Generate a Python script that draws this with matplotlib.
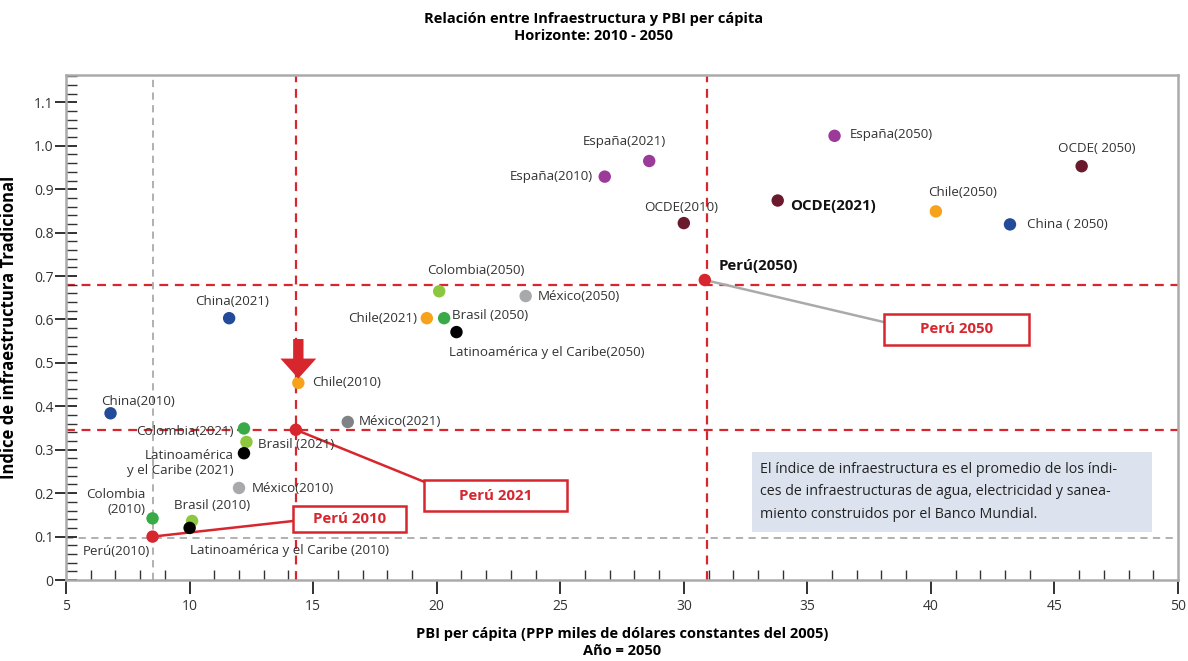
import matplotlib.pyplot as plt
from matplotlib.patches import Rectangle

plt.rcParams['font.family'] = ['Open Sans', 'DejaVu Sans']

# data
names = ['España(2050)', 'OCDE(2050)', 'España(2021)', 'España(2010)', 'OCDE(2021)',
         'Chile(2050)', 'China(2050)', 'OCDE(2010)', 'Perú(2050)', 'Colombia(2050)',
         'México(2050)', 'China(2021)', 'Chile(2021)', 'Brasil(2050)', 'LAC(2050)',
         'Chile(2010)', 'China(2010)', 'México(2021)', 'Colombia(2021)', 'Perú(2021)',
         'Brasil(2021)', 'LAC(2021)', 'México(2010)', 'Colombia(2010)', 'Brasil(2010)',
         'LAC(2010)', 'Perú(2010)']
pbi = [36.1, 46.1, 28.6, 26.8, 33.8, 40.2, 43.2, 30.0, 30.85, 20.1,
       23.6, 11.6, 19.6, 20.3, 20.8, 14.4, 6.8, 16.4, 12.2, 14.3,
       12.3, 12.2, 12.0, 8.5, 10.1, 10.0, 8.5]
indice = [1.023, 0.953, 0.965, 0.929, 0.874, 0.849, 0.819, 0.822, 0.691, 0.665,
          0.654, 0.603, 0.603, 0.603, 0.571, 0.454, 0.384, 0.364, 0.349, 0.346,
          0.318, 0.292, 0.212, 0.142, 0.136, 0.12, 0.1]
colores = ['#9b3a98', '#6b1a2e', '#9b3a98', '#9b3a98', '#6b1a2e',
           '#f7a21b', '#244a9a', '#6b1a2e', '#d7262e', '#8dc63f',
           '#a7a9ac', '#244a9a', '#f7a21b', '#3aaa48', '#000000',
           '#f7a21b', '#244a9a', '#808285', '#3aaa48', '#d7262e',
           '#8dc63f', '#000000', '#a7a9ac', '#3aaa48', '#8dc63f',
           '#000000', '#d7262e']

# point labels: text, x, y, ha, bold
etiquetas = [
    ('España(2050)', 36.7, 1.025, 'left', False),
    ('OCDE( 2050)', 46.7, 0.993, 'center', False),
    ('España(2021)', 27.6, 1.009, 'center', False),
    ('España(2010)', 26.3, 0.929, 'right', False),
    ('OCDE(2010)', 29.9, 0.859, 'center', False),
    ('OCDE(2021)', 34.3, 0.862, 'left', True),
    ('Chile(2050)', 41.3, 0.892, 'center', False),
    ('China ( 2050)', 43.9, 0.819, 'left', False),
    ('Perú(2050)', 31.4, 0.724, 'left', True),
    ('Colombia(2050)', 21.6, 0.712, 'center', False),
    ('México(2050)', 24.1, 0.654, 'left', False),
    ('China(2021)', 11.7, 0.641, 'center', False),
    ('Chile(2021)', 19.2, 0.603, 'right', False),
    ('Brasil (2050)', 20.6, 0.61, 'left', False),
    ('Latinoamérica y el Caribe(2050)', 20.5, 0.523, 'left', False),
    ('Chile(2010)', 14.95, 0.454, 'left', False),
    ('China(2010)', 7.9, 0.412, 'center', False),
    ('México(2021)', 16.85, 0.364, 'left', False),
    ('Colombia(2021)', 11.8, 0.343, 'right', False),
    ('Brasil (2021)', 12.75, 0.311, 'left', False),
    ('Latinoamérica\ny el Caribe (2021)', 11.8, 0.27, 'right', False),
    ('México(2010)', 12.5, 0.21, 'left', False),
    ('Colombia\n(2010)', 8.2, 0.18, 'right', False),
    ('Brasil (2010)', 10.9, 0.171, 'center', False),
    ('Latinoamérica y el Caribe (2010)', 10.0, 0.069, 'left', False),
    ('Perú(2010)', 8.4, 0.065, 'right', False),
]

fig = plt.figure(figsize=(11.88, 6.61), dpi=100)
ax = fig.add_axes([0.0556, 0.1225, 0.936, 0.764])

# reference lines
rojo = '#d7262e'
ax.axhline(0.68, color=rojo, ls=(0, (4, 3)), lw=1.6, zorder=1)
ax.axhline(0.346, color=rojo, ls=(0, (4, 3)), lw=1.6, zorder=1)
ax.axvline(14.3, color=rojo, ls=(0, (4, 3)), lw=1.6, zorder=1)
ax.axvline(30.92, color=rojo, ls=(0, (4, 3)), lw=1.6, zorder=1)
ax.axvline(8.5, color='#aaaaaa', ls=(0, (4, 3)), lw=1.3, zorder=1)
ax.axhline(0.097, color='#aaaaaa', ls=(0, (4, 3)), lw=1.3, zorder=1)

# callout leaders
ax.plot([30.85, 38.1], [0.691, 0.594], color='#aaaaaa', lw=1.8, zorder=2)
ax.plot([14.3, 19.5], [0.346, 0.226], color=rojo, lw=1.8, zorder=2)
ax.plot([8.5, 14.2], [0.1, 0.136], color=rojo, lw=1.8, zorder=2)

ax.scatter(pbi, indice, s=80, c=colores, zorder=3, linewidths=0)

for txt, x, y, ha, bold in etiquetas:
    ax.text(x, y, txt, ha=ha, va='center',
            fontsize=10.8 if bold else 9.6, color='#111111' if bold else '#333333',
            fontweight='bold' if bold else 'normal', multialignment=ha,
            linespacing=1.15, zorder=4)

# callout boxes
cajas = [('Perú 2050', 38.1, 0.541, 5.87, 0.072),
         ('Perú 2021', 19.5, 0.159, 5.79, 0.071),
         ('Perú 2010', 14.2, 0.111, 4.57, 0.06)]
for txt, x0, y0, w, h in cajas:
    ax.add_patch(Rectangle((x0, y0), w, h, facecolor='white', edgecolor=rojo,
                           lw=1.8, zorder=5))
    ax.text(x0 + w / 2, y0 + h / 2, txt, ha='center', va='center', color=rojo,
            fontsize=10.8, fontweight='bold', zorder=6)

# arrow above Chile(2010)
ax.arrow(14.4, 0.555, 0, -0.045, width=0.42, head_width=1.45, head_length=0.046,
         length_includes_head=False, color=rojo, zorder=5, lw=0)

# note box
ax.add_patch(Rectangle((32.75, 0.111), 16.2, 0.184, facecolor='#dce3ef',
                       edgecolor='none', zorder=2))
ax.text(33.1, 0.203,
        'El índice de infraestructura es el promedio de los índi-\n'
        'ces de infraestructuras de agua, electricidad y sanea-\n'
        'miento construidos por el Banco Mundial.',
        ha='left', va='center', fontsize=10.3, color='#222222', linespacing=1.7,
        zorder=3)

ax.set_xlim(5, 50)
ax.set_ylim(0, 1.163)
ax.set_xticks(range(5, 51, 5))
ax.set_xticks(range(5, 51), minor=True)
ax.set_yticks([i / 10 for i in range(12)])
ax.set_yticklabels(['0'] + [f'{i / 10:.1f}' for i in range(1, 12)])
ax.set_yticks([i / 50 for i in range(59)], minor=True)
ax.tick_params(axis='x', which='major', direction='out', length=10, width=1.3,
               color='#222222', labelsize=10, pad=4, labelcolor='#333333')
ax.tick_params(axis='x', which='minor', direction='in', length=7, width=1,
               color='#333333')
ax.tick_params(axis='y', which='major', direction='inout', length=16, width=1.3,
               color='#222222', labelsize=10, pad=1, labelcolor='#333333')
ax.tick_params(axis='y', which='minor', direction='in', length=8, width=1,
               color='#333333')
for s in ['left', 'bottom', 'right', 'top']:
    ax.spines[s].set_color('#aaaaaa')
    ax.spines[s].set_linewidth(1.8)

ax.set_ylabel('Índice de infraestructura Tradicional', fontsize=12,
              fontweight='bold')
ax.yaxis.set_label_coords(-0.043, 0.5)
ax.set_xlabel('PBI per cápita (PPP miles de dólares constantes del 2005)\nAño = 2050',
              fontsize=10.5, fontweight='bold', linespacing=1.25)
ax.xaxis.set_label_coords(0.5, -0.094)
ax.xaxis.label.set_va('top')
fig.text(0.5, 0.982, 'Relación entre Infraestructura y PBI per cápita\nHorizonte: 2010 - 2050',
         ha='center', va='top', fontsize=10.5, fontweight='bold', linespacing=1.3)

fig.savefig('out.png', dpi=100)
